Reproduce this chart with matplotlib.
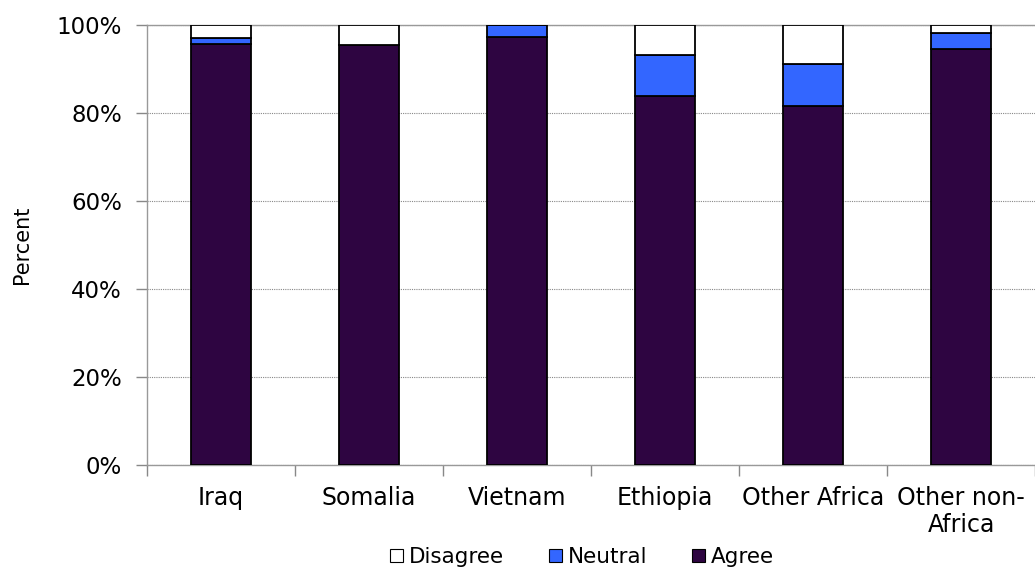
import matplotlib
matplotlib.use("Agg")
import matplotlib.pyplot as plt
import numpy as np
from matplotlib.ticker import FixedLocator, PercentFormatter
from matplotlib.patches import Patch

categories = ["Iraq", "Somalia", "Vietnam", "Ethiopia", "Other Africa", "Other non-\nAfrica"]
agree = [95.6, 95.5, 97.3, 83.9, 81.7, 94.5]
neutral = [1.4, 0.0, 2.7, 9.2, 9.4, 3.6]
disagree = [3.0, 4.5, 0.0, 6.9, 8.9, 1.9]

c_agree = "#2E0541"
c_neutral = "#3366FF"
c_disagree = "#FFFFFF"

plt.rcParams["font.family"] = "DejaVu Sans"

fig = plt.figure(figsize=(10.35, 5.68), dpi=100)
ax = fig.add_axes([147 / 1035, 1 - 465 / 568, 1 - 147 / 1035, (465 - 25) / 568])

x = np.arange(len(categories))
w = 0.4
agree_a = np.array(agree)
neutral_a = np.array(neutral)
disagree_a = np.array(disagree)

ax.bar(x, agree_a, w, color=c_agree, edgecolor="black", linewidth=1.3, zorder=3)
ax.bar(x, neutral_a, w, bottom=agree_a, color=c_neutral, edgecolor="black", linewidth=1.3, zorder=3)
ax.bar(x, disagree_a, w, bottom=agree_a + neutral_a, color=c_disagree, edgecolor="black", linewidth=1.3, zorder=3)

ax.set_xlim(-0.5, len(categories) - 0.5)
ax.set_ylim(0, 100)
ax.set_yticks([0, 20, 40, 60, 80, 100])
ax.yaxis.set_major_formatter(PercentFormatter(decimals=0))
ax.yaxis.grid(True, linestyle=(0, (1, 1)), color="#888888", linewidth=0.8, zorder=0)

ax.set_xticks(x)
ax.set_xticklabels(categories, fontsize=17, linespacing=1.15)
ax.tick_params(axis="x", which="major", length=0, pad=15)
ax.xaxis.set_minor_locator(FixedLocator(np.arange(-0.5, len(categories), 1.0)))
ax.tick_params(axis="x", which="minor", length=8, color="#888888", width=1)
ax.tick_params(axis="y", labelsize=16.5, length=8, color="#888888", width=1, pad=10)

ax.spines["right"].set_visible(False)
for s in ["left", "bottom", "top"]:
    ax.spines[s].set_color("#999999")
    ax.spines[s].set_linewidth(1)

ax.set_ylabel("Percent", fontsize=15)
ax.yaxis.set_label_coords((32 - 147) / 888, 0.5)

handles = [
    Patch(facecolor=c_disagree, edgecolor="black", linewidth=0.8, label="Disagree"),
    Patch(facecolor=c_neutral, edgecolor="black", linewidth=0.8, label="Neutral"),
    Patch(facecolor=c_agree, edgecolor="black", linewidth=0.8, label="Agree"),
]
fig.legend(handles=handles, loc="center", bbox_to_anchor=(582 / 1035, 1 - 557 / 568),
           ncol=3, frameon=False, fontsize=15.5, handlelength=0.6, handleheight=0.6,
           handletextpad=0.25, columnspacing=2.1, borderpad=0)

fig.savefig("out.png", dpi=100)
